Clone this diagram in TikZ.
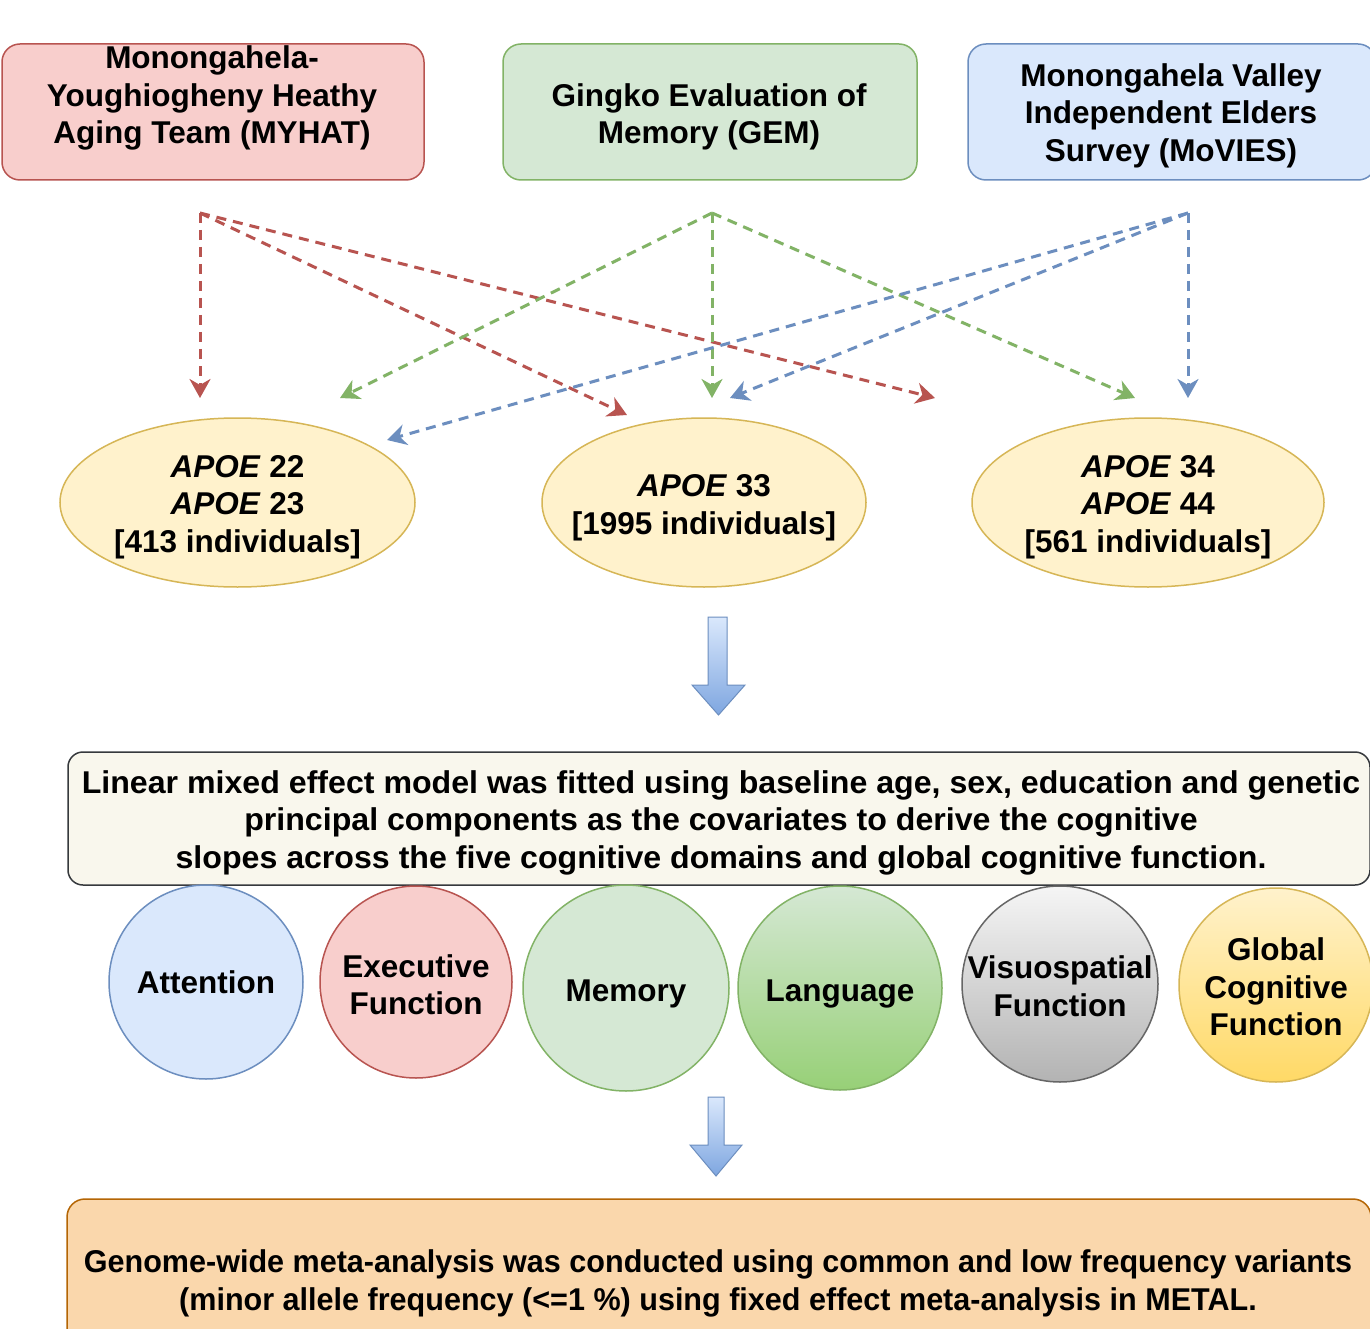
\documentclass[tikz,border=0pt]{standalone}
\usepackage{fontspec}
\setmainfont{Liberation Sans}
\newfontfamily\midfont{Liberation Sans}[FakeStretch=1.02]
\newfontfamily\botfont{Liberation Sans}[FakeStretch=0.97]
\usetikzlibrary{shapes.geometric,arrows.meta}
\definecolor{redS}{HTML}{B85450}
\definecolor{redF}{HTML}{F8CECC}
\definecolor{grnS}{HTML}{82B366}
\definecolor{grnF}{HTML}{D5E8D4}
\definecolor{bluS}{HTML}{6C8EBF}
\definecolor{bluF}{HTML}{DAE8FC}
\definecolor{yelS}{HTML}{D6B656}
\definecolor{yelF}{HTML}{FFF2CC}
\definecolor{gryS}{HTML}{666666}
\definecolor{gryT}{HTML}{F5F5F5}
\definecolor{gryB}{HTML}{B3B3B3}
\definecolor{lngB}{HTML}{97D077}
\definecolor{glbB}{HTML}{FFD966}
\definecolor{midF}{HTML}{F9F7ED}
\definecolor{midS}{HTML}{36393D}
\definecolor{botF}{HTML}{FAD7AC}
\definecolor{botS}{HTML}{B46504}
\definecolor{arrB}{HTML}{7EA6E0}
\tikzset{
  srcbox/.style={rectangle, rounded corners=18pt, line width=1.5pt, inner sep=0pt, align=center},
  txt/.style={inner sep=0pt, align=center},
  oval/.style={ellipse, draw=yelS, fill=yelF, line width=1.5pt, inner sep=0pt},
  dom/.style={circle, line width=1.5pt, inner sep=0pt},
  link/.style={dashed, dash pattern=on 10pt off 7pt, line width=3pt,
    -{Stealth[length=19pt,width=21pt,inset=6pt]}},
  blockarrow/.style={draw=bluS, line width=1pt, top color=bluF, bottom color=arrB}
}
\newcommand{\apoe}{\textit{APOE}}
\begin{document}
\begin{tikzpicture}[x=1pt,y=-1pt, font=\fontsize{31.5}{37.5}\selectfont\bfseries]
\useasboundingbox (0,0) rectangle (1370,1329);
\fill[white] (0,0) rectangle (1370,1329);

% source boxes
\node[srcbox, draw=redS, fill=redF, minimum width=422pt, minimum height=136pt] (myhat) at (213,112) {};
\node[txt] (myhatT) at (212,98) {Monongahela-\\Youghiogheny Heathy\\Aging Team (MYHAT)};
\node[srcbox, draw=grnS, fill=grnF, minimum width=414pt, minimum height=136pt] (gem) at (710,112) {};
\node[txt] (gemT) at (709,117) {Gingko Evaluation of\\Memory (GEM)};
\node[srcbox, draw=bluS, fill=bluF, minimum width=408pt, minimum height=136pt] (movies) at (1172,112) {};
\node[txt] (moviesT) at (1171,115.5) {Monongahela Valley\\Independent Elders\\Survey (MoVIES)};

% ellipses
\node[oval, minimum width=355pt, minimum height=169pt] (e1) at (237.5,502.5) {};
\node[txt] (e1t) at (237.5,507) {\apoe\ 22\\\apoe\ 23\\{[}413 individuals{]}};
\node[oval, minimum width=324pt, minimum height=169pt] (e2) at (704,502.5) {};
\node[txt] (e2t) at (704,508) {\apoe\ 33\\{[}1995 individuals{]}};
\node[oval, minimum width=352pt, minimum height=169pt] (e3) at (1148,502.5) {};
\node[txt] (e3t) at (1148,507) {\apoe\ 34\\\apoe\ 44\\{[}561 individuals{]}};

% connector coordinates
\coordinate (r0) at (200,213);
\coordinate (g0) at (712,213);
\coordinate (b0) at (1188,213);
\coordinate (rA) at (200,398);
\coordinate (rB) at (627,415);
\coordinate (rC) at (935,398);
\coordinate (gA) at (340,398);
\coordinate (gB) at (712,398);
\coordinate (gC) at (1135,398);
\coordinate (bA) at (387,440);
\coordinate (bB) at (730,398);
\coordinate (bC) at (1188,398);

\draw[link, redS] (r0) -- (rA);
\draw[link, redS] (r0) -- (rB);
\draw[link, redS] (r0) -- (rC);
\draw[link, grnS] (g0) -- (gA);
\draw[link, grnS] (g0) -- (gB);
\draw[link, grnS] (g0) -- (gC);
\draw[link, bluS] (b0) -- (bA);
\draw[link, bluS] (b0) -- (bB);
\draw[link, bluS] (b0) -- (bC);

% block arrow 1
\path[blockarrow] (708,617) -- (727,617) -- (727,685) -- (745,685) -- (718.5,715) -- (692,685) -- (708,685) -- cycle;

% middle box
\node[srcbox, rounded corners=15pt, draw=midS, fill=midF, minimum width=1302pt, minimum height=133pt] (lmm) at (719,818.5) {};
\node[txt] (lmmT) at (721,822.5)
  {\midfont Linear mixed effect model was fitted using baseline age, sex, education and genetic\\
   \midfont principal components as the covariates to derive the cognitive\\
   \midfont slopes across the five cognitive domains and global cognitive function.};

% domain circles
\node[dom, draw=bluS, fill=bluF, minimum size=194pt] (c1) at (206,982) {};
\node[txt] (c1t) at (206,982) {Attention};
\node[dom, draw=redS, fill=redF, minimum size=192pt] (c2) at (416,982) {};
\node[txt] (c2t) at (416,984.5) {Executive\\Function};
\node[dom, draw=grnS, fill=grnF, minimum size=206pt] (c3) at (626,988) {};
\node[txt] (c3t) at (626,994) {Memory};
\node[dom, draw=grnS, top color=grnF, bottom color=lngB, minimum size=204pt] (c4) at (840,988) {};
\node[txt] (c4t) at (840,994) {Language};
\node[dom, draw=gryS, top color=gryT, bottom color=gryB, minimum size=196pt] (c5) at (1060,984) {};
\node[txt] (c5t) at (1060,986) {Visuospatial\\Function};
\node[dom, draw=yelS, top color=yelF, bottom color=glbB, minimum size=194pt] (c6) at (1276,985) {};
\node[txt] (c6t) at (1276,987) {Global\\Cognitive\\Function};

% block arrow 2
\path[blockarrow] (708,1097) -- (724,1097) -- (724,1145) -- (742,1145) -- (716,1176) -- (690,1145) -- (708,1145) -- cycle;

% bottom box
\node[srcbox, rounded corners=18pt, draw=botS, fill=botF, minimum width=1304pt, minimum height=161pt] (meta) at (719,1279.5) {};
\node[txt] (metaT) at (718,1283.5)
  {\botfont Genome-wide meta-analysis was conducted using common and low frequency variants\\
   \botfont (minor allele frequency (<=1 \%) using fixed effect meta-analysis in METAL.};
\end{tikzpicture}
\end{document}
